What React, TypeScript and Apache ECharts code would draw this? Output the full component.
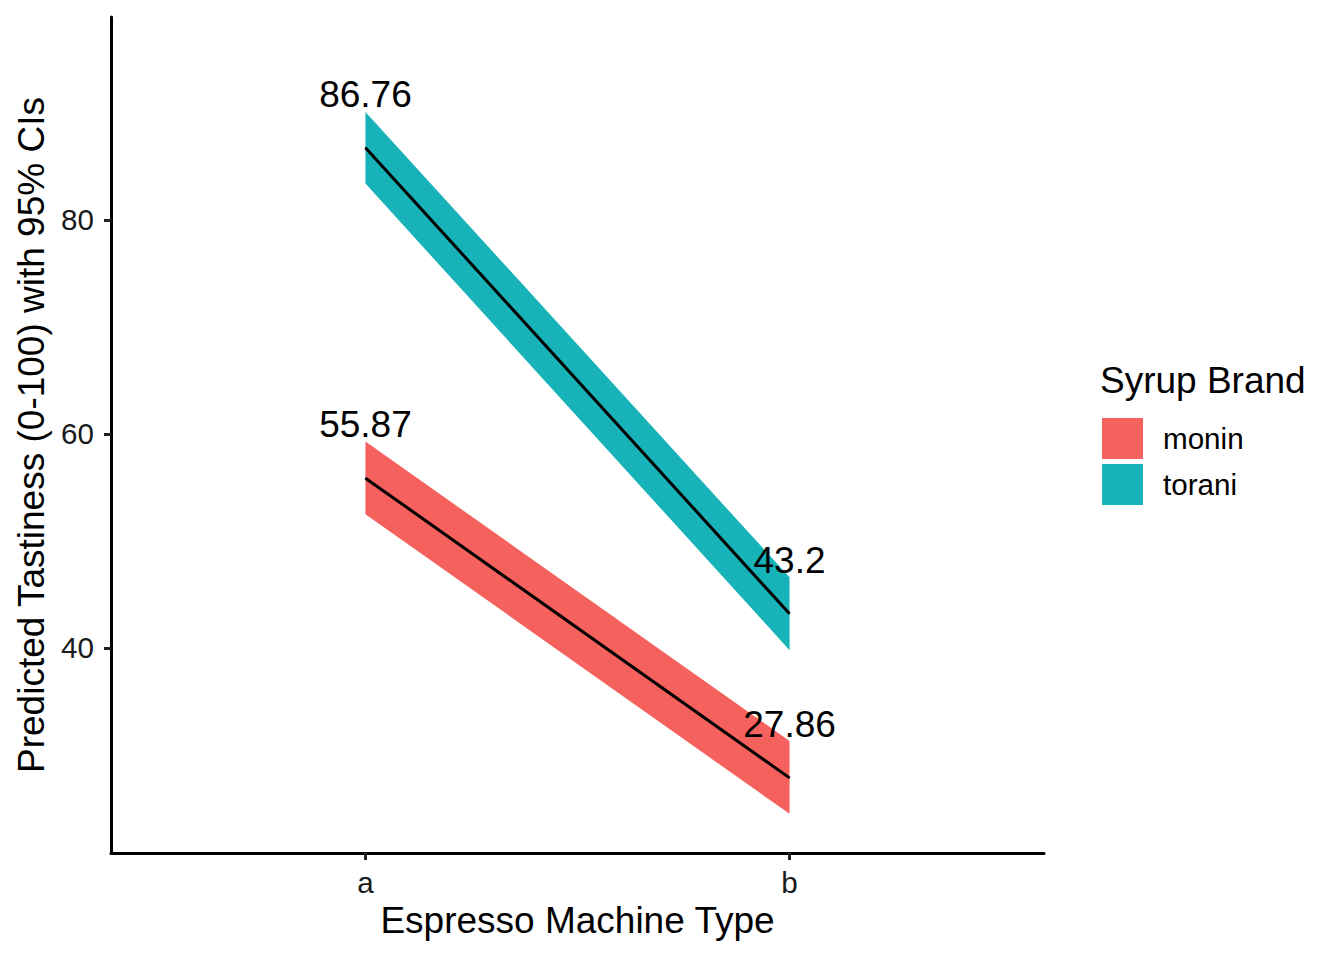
import React, { useEffect, useRef } from "react";
import * as echarts from "echarts";

const categories = ["a", "b"];
const xPositions = [1, 2];
const brands = ["monin", "torani"];
const moninFit = [55.87, 27.86];
const moninLower = [52.5, 24.5];
const moninUpper = [59.3, 31.3];
const toraniFit = [86.76, 43.2];
const toraniLower = [83.4, 39.8];
const toraniUpper = [90.1, 46.6];
const yTicks = [40, 60, 80];
const brandColors = ["#F5615C", "#17B3B8"];

const FONT = "'Liberation Sans', Arial, Helvetica, sans-serif";

function ribbonSeries(name: string, color: string, lower: number[], upper: number[]) {
  return {
    type: "custom",
    name,
    z: 2,
    itemStyle: { color },
    data: xPositions.map((x, i) => [x, lower[i], upper[i]]),
    encode: { x: 0, y: [1, 2] },
    renderItem: (params: any, api: any) => {
      const i = params.dataIndex;
      if (i >= xPositions.length - 1) return null;
      const p1 = api.coord([xPositions[i], lower[i]]);
      const p2 = api.coord([xPositions[i + 1], lower[i + 1]]);
      const p3 = api.coord([xPositions[i + 1], upper[i + 1]]);
      const p4 = api.coord([xPositions[i], upper[i]]);
      return {
        type: "polygon",
        shape: { points: [p1, p2, p3, p4] },
        style: { fill: color, stroke: null },
      };
    },
  };
}

function fitSeries(name: string, fit: number[]) {
  return {
    type: "line",
    name: name + " fit",
    z: 3,
    data: xPositions.map((x, i) => [x, fit[i]]),
    symbol: "circle",
    symbolSize: 1,
    itemStyle: { color: "#000" },
    lineStyle: { color: "#000", width: 3 },
    label: {
      show: true,
      position: "inside",
      offset: [0, -53.5],
      fontSize: 37,
      fontFamily: FONT,
      color: "#000",
      formatter: (p: any) => String(p.value[1]),
    },
  };
}

export default function App() {
  const ref = useRef<HTMLDivElement>(null);
  useEffect(() => {
    if (!ref.current) return;
    const chart = echarts.init(ref.current, null, { renderer: "svg" });
    chart.setOption({
      animation: false,
      backgroundColor: "#fff",
      textStyle: { fontFamily: FONT },
      grid: { left: 111, right: 300, top: 17, bottom: 107, containLabel: false },
      xAxis: {
        type: "value",
        min: 0.4,
        max: 2.6,
        name: "Espresso Machine Type",
        nameLocation: "middle",
        nameGap: 49,
        nameTextStyle: { fontSize: 37, color: "#000", fontFamily: FONT },
        axisLine: { show: true, lineStyle: { color: "#000", width: 3 } },
        axisTick: { show: true, length: 7, customValues: xPositions, lineStyle: { color: "#222", width: 3 } },
        axisLabel: {
          customValues: xPositions,
          formatter: (v: number) => categories[Math.round(v) - 1] ?? "",
          fontSize: 29.6,
          color: "#1A1A1A",
          margin: 14,
          fontFamily: FONT,
        },
        splitLine: { show: false },
      },
      yAxis: {
        type: "value",
        min: 20.84,
        max: 98.97,
        name: "Predicted Tastiness (0-100) with 95% CIs",
        nameLocation: "middle",
        nameGap: 58,
        nameRotate: 90,
        nameTextStyle: { fontSize: 37, color: "#000", fontFamily: FONT },
        axisLine: { show: true, lineStyle: { color: "#000", width: 3 } },
        axisTick: { show: true, length: 7, customValues: yTicks, lineStyle: { color: "#222", width: 3 } },
        axisLabel: {
          customValues: yTicks,
          fontSize: 29.6,
          color: "#1A1A1A",
          margin: 17,
          fontFamily: FONT,
        },
        splitLine: { show: false },
      },
      legend: {
        data: brands,
        orient: "vertical",
        left: 1097,
        top: 413,
        icon: "rect",
        itemWidth: 41,
        itemHeight: 41,
        itemGap: 5,
        textStyle: { fontSize: 29.6, color: "#000", fontFamily: FONT, padding: [0, 0, 0, 15] },
      },
      graphic: [
        {
          type: "text",
          left: 1100,
          top: 362,
          style: { text: "Syrup Brand", fontSize: 37, fill: "#000", fontFamily: FONT },
        },
      ],
      series: [
        ribbonSeries(brands[0], brandColors[0], moninLower, moninUpper),
        ribbonSeries(brands[1], brandColors[1], toraniLower, toraniUpper),
        fitSeries(brands[0], moninFit),
        fitSeries(brands[1], toraniFit),
      ],
    });
    return () => chart.dispose();
  }, []);
  return <div ref={ref} style={{ position: "fixed", left: 0, top: 0, width: 1344, height: 960 }} />;
}
